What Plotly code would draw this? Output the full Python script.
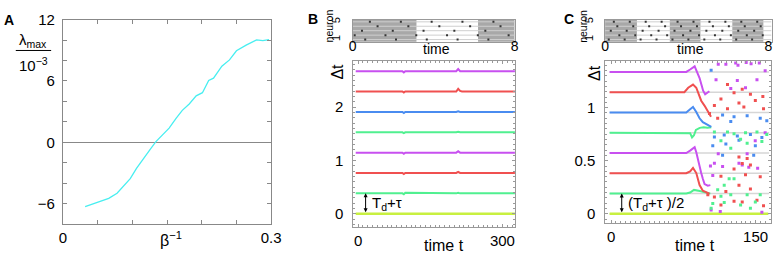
import plotly.graph_objects as go

W, H = 783, 253
FONT = "Liberation Sans, Arial, Helvetica, sans-serif"

# ---------------- Panel A data ----------------
A_beta_inv = [0.032, 0.052, 0.066, 0.078, 0.087, 0.097, 0.106, 0.117, 0.126, 0.134,
              0.144, 0.153, 0.163, 0.172, 0.182, 0.192, 0.201, 0.210, 0.217, 0.229,
              0.240, 0.250, 0.264, 0.279, 0.288, 0.297]
A_lambda = [-6.30, -5.86, -5.48, -4.98, -4.35, -3.56, -2.55, -1.45, -0.66, 0.06,
            0.76, 1.39, 2.33, 3.12, 3.75, 4.54, 4.85, 6.05, 6.27, 7.44,
            8.06, 8.95, 9.51, 10.02, 9.95, 10.04]
A_xticks = [0, 0.05, 0.1, 0.15, 0.2, 0.25, 0.3]
A_xlabels = ['0', '', '', '', '', '', '0.3']
A_yticks = [-8, -6, -4, -2, 0, 2, 4, 6, 8, 10, 12]
A_ylabels = ['', '\u22126', '', '', '0', '', '', '6', '', '', '12']

# ---------------- Colours of the 8 Δt traces ----------------
YEL, GRN, RED, MAG, BLU = '#c8f040', '#50f090', '#f05050', '#c850f0', '#4a8cf0'
line_colors = [YEL, GRN, RED, MAG, GRN, BLU, RED, MAG]

# ---------------- Panel B data ----------------
B_t = [-5, 92, 95, 98, 204, 208, 212, 216, 326]
B_levels = [0, 0.382, 0.764, 1.146, 1.528, 1.910, 2.292, 2.674]
B_dev = [
    [0, 0, 0, 0, 0, 0, 0, 0, 0],
    [0, 0, -0.015, 0.01, 0, 0.01, 0, 0, 0],
    [0, 0, -0.02, 0, 0, 0.02, 0, 0, 0],
    [0, 0, -0.02, 0, 0, 0.025, 0, 0, 0],
    [0, 0, -0.015, 0, 0, 0.01, 0, 0, 0],
    [0, 0, -0.02, 0, 0, 0.01, 0, 0, 0],
    [0, 0, -0.02, 0, 0, 0.05, 0.01, 0, 0],
    [0, 0, -0.025, 0, 0, 0.04, 0, 0, 0],
]
B_events = [95, 208]
B_blocks_gray = [[0, 3.15], [6.19, 8.0]]
B_spikes = {
    5: [0.85, 2.38, 3.90, 5.42, 6.95],
    4: [1.23, 2.75, 4.28, 5.80, 7.30],
    3: [0.46, 1.98, 3.50, 5.02, 6.55],
    2: [0.10, 1.62, 3.14, 4.66, 6.18, 7.70],
    1: [0.62, 2.14, 3.66, 5.18, 6.70],
}

# ---------------- Panel C data ----------------
C_levels = [0, 0.191, 0.382, 0.573, 0.764, 0.955, 1.146, 1.337]
C_line_t = [
    [-1.6, 163],
    [-1.6, 78, 82, 86, 92, 98, 103],
    [-1.6, 78, 82, 85, 88.4, 90.1, 91.8, 95.2, 98.6, 102],
    [-1.6, 78, 82, 86.7, 88.4, 90.1, 91.8, 93.5, 95.2, 97, 100.3, 103],
    [-1.6, 78, 82, 84, 86, 88, 92, 96, 100, 104],
    [-1.6, 78, 82, 85, 88.4, 91.8, 95.2, 100.3, 104],
    [-1.6, 76, 80, 85, 88.4, 91, 93.5, 96.9, 100.3, 103.7],
    [-1.6, 78, 82, 86.7, 89, 91.8, 94, 95.5, 97.6, 100, 102],
]
C_line_v = [
    [0, 0],
    [0.191, 0.191, 0.2, 0.225, 0.215, 0.2, 0.19],
    [0.382, 0.382, 0.4, 0.432, 0.384, 0.324, 0.27, 0.218, 0.2, 0.19],
    [0.573, 0.573, 0.595, 0.627, 0.58, 0.505, 0.445, 0.385, 0.33, 0.28, 0.265, 0.27],
    [0.764, 0.764, 0.76, 0.72, 0.74, 0.79, 0.81, 0.815, 0.81, 0.815],
    [0.955, 0.955, 0.985, 1.006, 0.96, 0.9, 0.863, 0.839, 0.82],
    [1.146, 1.146, 1.188, 1.218, 1.188, 1.127, 1.066, 1.02, 0.966, 0.915],
    [1.337, 1.337, 1.36, 1.39, 1.34, 1.28, 1.21, 1.16, 1.127, 1.14, 1.155],
]
C_mag_t = [111.2, 119.1, 129.3, 131.7, 140.2, 145.3, 153.8, 159.9, 108.9, 131.0, 151.4, 139.5,
           124.2, 111.2, 141.2, 107.2, 136.1, 132.7, 149.6, 159.9, 103.1, 115.7, 142.9, 152.1,
           105.5, 103.8, 113.3, 156.5]
C_mag_v = [1.409, 1.409, 1.421, 1.40, 1.427, 1.415, 1.421, 1.348, 1.264, 1.257, 1.264, 1.188,
           1.182, 0.566, 0.566, 0.476, 0.46, 0.476, 0.688, 0.763, 0.451, 0.445, 0.439, 0.43,
           0.36, 0.036, 0.021, 0.015]
C_red_t = [120.8, 127.6, 136.1, 144.6, 157.5, 114.0, 132.7, 149.7, 107.2, 137.8, 120.8, 158.2,
           102.1, 110.6, 132.7, 141.2, 114.0, 127.6, 136.1, 144.6, 154.8, 100.4, 107.2, 119.1,
           127.6, 136.1, 151.4, 158.2, 132.7, 144.6, 139.5, 114.0]
C_red_v = [1.218, 1.142, 1.173, 1.127, 1.106, 1.082, 1.045, 1.067, 1.021, 1.006, 0.991, 0.991,
           0.945, 0.90, 0.536, 0.521, 0.354, 0.421, 0.475, 0.46, 0.348, 0.179, 0.157, 0.209,
           0.118, 0.112, 0.127, 0.076, 0.269, 0.233, 0.369, 0.082]
C_blue_t = [103.8, 115.7, 127.6, 141.2, 154.8, 124.2, 161.6, 107.2, 117.4, 131.0, 144.6, 156.5,
            105.5, 119.1, 149.7, 132.7, 115.7, 148.0]
C_blue_v = [1.354, 0.93, 0.915, 0.924, 0.90, 0.87, 0.876, 0.724, 0.742, 0.733, 0.748, 0.718,
            0.642, 0.657, 0.642, 0.694, 0.551, 0.551]
C_green_t = [107.2, 120.8, 127.6, 139.5, 151.4, 161.6, 114.0, 134.4, 156.5, 124.2, 141.2, 122.5,
             127.6, 117.4, 110.6, 124.2, 114.0, 141.2, 154.8, 105.5, 117.4, 134.4, 144.6, 103.8,
             149.7]
C_green_v = [0.772, 0.772, 0.754, 0.763, 0.772, 0.748, 0.688, 0.703, 0.682, 0.618, 0.664, 0.33,
             0.33, 0.269, 0.227, 0.179, 0.166, 0.179, 0.179, 0.097, 0.106, 0.082, 0.051, 0.051,
             0.112]
C_events = [50]
C_blocks_gray = [[0, 1.56], [3.17, 4.67], [6.23, 7.75]]
C_spikes = {
    5: [0.43, 1.21, 1.99, 2.77, 3.55, 4.33, 5.11, 5.89, 6.67, 7.45],
    4: [0.60, 1.38, 2.16, 2.94, 3.72, 4.50, 5.28, 6.06, 6.84, 7.62],
    3: [0.28, 1.06, 1.84, 2.62, 3.40, 4.18, 4.96, 5.74, 6.52, 7.30],
    2: [0.70, 1.48, 2.26, 3.04, 3.82, 4.60, 5.38, 6.16, 6.94, 7.72],
    1: [0.18, 0.96, 1.74, 2.52, 3.30, 4.08, 4.86, 5.64, 6.42, 7.20],
}
neurons = [1, 2, 3, 4, 5]

fig = go.Figure()

# ---- Panel A ----
fig.add_trace(go.Scatter(x=A_beta_inv, y=A_lambda, mode='lines',
                         line=dict(color='#48eef0', width=1.3), xaxis='x', yaxis='y'))

# ---- raster helper ----
def add_raster(xa, ya, spikes, xmax):
    for n in neurons:
        fig.add_trace(go.Scatter(x=[0, xmax], y=[n, n], mode='lines',
                                 line=dict(color='#cfcfcf', width=1), xaxis=xa, yaxis=ya))
    for n in neurons:
        fig.add_trace(go.Scatter(x=spikes[n], y=[n] * len(spikes[n]), mode='markers',
                                 marker=dict(symbol='square', size=2, color='#333333'),
                                 xaxis=xa, yaxis=ya))

add_raster('x2', 'y2', B_spikes, 8.0)
add_raster('x4', 'y4', C_spikes, 8.15)

# ---- Panel B main ----
for k, lev in enumerate(B_levels):
    fig.add_trace(go.Scatter(x=B_t, y=[lev + d for d in B_dev[k]], mode='lines',
                             line=dict(color=line_colors[k], width=2.6 if k == 0 else 2),
                             xaxis='x3', yaxis='y3'))
fig.add_trace(go.Scatter(x=B_events, y=[2.955] * len(B_events), mode='markers',
                         marker=dict(symbol='triangle-down', size=9, color='#1010f0'),
                         cliponaxis=False, xaxis='x3', yaxis='y3'))

# ---- Panel C main ----
for lev in C_levels:
    fig.add_trace(go.Scatter(x=[-1.6, 164], y=[lev, lev], mode='lines',
                             line=dict(color='#d6d6d6', width=1.5), xaxis='x5', yaxis='y5'))
for k in range(8):
    fig.add_trace(go.Scatter(x=C_line_t[k], y=C_line_v[k], mode='lines',
                             line=dict(color=line_colors[k], width=2.6 if k == 0 else 2),
                             xaxis='x5', yaxis='y5'))
for tt, vv, col in [(C_mag_t, C_mag_v, MAG), (C_red_t, C_red_v, RED),
                    (C_blue_t, C_blue_v, BLU), (C_green_t, C_green_v, GRN)]:
    fig.add_trace(go.Scatter(x=tt, y=vv, mode='markers',
                             marker=dict(symbol='square', size=3, color=col),
                             xaxis='x5', yaxis='y5'))
fig.add_trace(go.Scatter(x=C_events, y=[1.485] * len(C_events), mode='markers',
                         marker=dict(symbol='triangle-down', size=9, color='#1010f0'),
                         cliponaxis=False, xaxis='x5', yaxis='y5'))

# ---- shapes: raster shading ----
shapes = []
for x0, x1 in B_blocks_gray:
    shapes.append(dict(type='rect', xref='x2', yref='y2 domain', x0=x0, x1=x1, y0=0, y1=1,
                       fillcolor='#a8a8a8', line=dict(width=0), layer='below'))
for x0, x1 in C_blocks_gray:
    shapes.append(dict(type='rect', xref='x4', yref='y4 domain', x0=x0, x1=x1, y0=0, y1=1,
                       fillcolor='#a8a8a8', line=dict(width=0), layer='below'))
# fraction bar of the λmax label
shapes.append(dict(type='line', xref='paper', yref='paper', x0=12 / W, x1=48 / W,
                   y0=1 - 43 / H, y1=1 - 43 / H, line=dict(color='black', width=1)))

def txt(text, x, y, size=14, angle=0, xanchor='center', xref='paper', yref='paper'):
    return dict(text=text, x=x, y=y, xref=xref, yref=yref, showarrow=False,
                font=dict(family=FONT, size=size, color='black'), textangle=angle,
                xanchor=xanchor, yanchor='middle')

annotations = [
    txt('<b>A</b>', 5 / W, 1 - 11 / H, 14),
    txt('<b>B</b>', 315 / W, 1 - 10 / H, 14),
    txt('<b>C</b>', 575 / W, 1 - 10 / H, 14),
    txt('λ<sub>max</sub>', 30 / W, 1 - 33 / H, 15),
    txt('10<sup>\u22123</sup>', 30 / W, 1 - 58 / H, 15),
    txt('β<sup>\u22121</sup>', 170 / W, 1 - 238 / H, 16),
    txt('Δt', 340 / W, 1 - 65 / H, 16, angle=-90),
    txt('Δt', 601 / W, 1 - 66 / H, 16, angle=-90),
    txt('time t', 448 / W, 1 - 245 / H, 16),
    txt('time t', 704 / W, 1 - 245 / H, 16),
    txt('time', 440 / W, 1 - 41 / H, 14),
    txt('time', 699 / W, 1 - 41 / H, 14),
    txt('neuron', 331 / W, 1 - 18 / H, 10.5, angle=-90),
    txt('neuron', 590 / W, 1 - 18 / H, 10.5, angle=-90),
    txt('T<sub>d</sub>+τ', 25, 0.19, 15, xanchor='left', xref='x3', yref='y3'),
    txt('(T<sub>d</sub>+τ )/2', 15, 0.095, 15, xanchor='left', xref='x5', yref='y5'),
    dict(text='', x=15.5, y=B_levels[1], ax=15.5, ay=B_levels[0], xref='x3', yref='y3',
         axref='x3', ayref='y3', showarrow=True, arrowhead=2, arrowside='end+start',
         arrowsize=0.8, arrowwidth=1, arrowcolor='black', standoff=0, startstandoff=0),
    dict(text='', x=11, y=C_levels[1], ax=11, ay=C_levels[0], xref='x5', yref='y5',
         axref='x5', ayref='y5', showarrow=True, arrowhead=2, arrowside='end+start',
         arrowsize=0.8, arrowwidth=1, arrowcolor='black', standoff=0, startstandoff=0),
]

tickfont = dict(family=FONT, size=15, color='black')
rfont = dict(family=FONT, size=14, color='black')
nfont = dict(family=FONT, size=11, color='black')
frame = dict(showline=True, linecolor='#999999', mirror='allticks', showgrid=False, zeroline=False)

def dom_x(a, b):
    return [a / W, b / W]

def dom_y(top, bottom):
    return [1 - bottom / H, 1 - top / H]

fig.update_layout(
    width=W, height=H, margin=dict(l=0, r=0, t=0, b=0),
    paper_bgcolor='white', plot_bgcolor='white', showlegend=False,
    font=dict(family=FONT, color='black'),
    shapes=shapes, annotations=annotations,
    xaxis=dict(domain=dom_x(60, 272), range=[0, 0.3], tickvals=A_xticks, ticktext=A_xlabels,
               ticks='inside', ticklen=4, tickcolor='#888888', tickfont=tickfont, anchor='y',
               showline=True, linecolor='#888888', mirror='allticks', showgrid=False, zeroline=False),
    yaxis=dict(domain=dom_y(11, 223), range=[-8, 12], tickvals=A_yticks, ticktext=A_ylabels,
               ticks='inside', ticklen=4, tickcolor='#888888', tickfont=tickfont, anchor='x',
               showline=True, linecolor='#888888', mirror='allticks', showgrid=False,
               zeroline=True, zerolinecolor='#888888', zerolinewidth=1, ticklabelstandoff=4),
    xaxis2=dict(domain=dom_x(355, 520), range=[0, 8.0], tickvals=[0, 8], ticks='',
                tickfont=rfont, anchor='y2', ticklabelstandoff=-9, **frame),
    yaxis2=dict(domain=dom_y(11, 34), range=[0.5, 5.5], tickvals=[1, 5], ticks='', tickangle=-90,
                tickfont=nfont, anchor='x2', ticklabelstandoff=7, **frame),
    xaxis3=dict(domain=dom_x(355.7, 520.7), range=[-10, 327], tickvals=[0, 300],
                ticks='inside', ticklen=3, tickcolor='#999999', tickfont=tickfont, anchor='y3',
                minor=dict(ticks='inside', ticklen=2, tickcolor='#999999', dtick=10, tick0=0),
                **frame),
    yaxis3=dict(domain=dom_y(53.5, 226), range=[-0.248, 2.872], tickvals=[0, 1, 2],
                ticks='inside', ticklen=3, tickcolor='#999999', tickfont=tickfont, anchor='x3',
                minor=dict(ticks='inside', ticklen=2, tickcolor='#999999', dtick=0.1, tick0=0),
                ticklabelstandoff=6, **frame),
    xaxis4=dict(domain=dom_x(612, 781.5), range=[0, 8.15], tickvals=[0, 8], ticks='',
                tickfont=rfont, anchor='y4', ticklabelstandoff=-9, **frame),
    yaxis4=dict(domain=dom_y(11, 34), range=[0.5, 5.5], tickvals=[1, 5], ticks='', tickangle=-90,
                tickfont=nfont, anchor='x4', ticklabelstandoff=7, **frame),
    xaxis5=dict(domain=dom_x(612.3, 781), range=[-6, 166], tickvals=[0, 150],
                ticks='inside', ticklen=3, tickcolor='#999999', tickfont=tickfont, anchor='y5',
                minor=dict(ticks='inside', ticklen=2, tickcolor='#999999', dtick=5, tick0=0),
                **frame),
    yaxis5=dict(domain=dom_y(53.5, 222), range=[-0.088, 1.444], tickvals=[0, 0.5, 1],
                ticktext=['0', '0.5', '1'],
                ticks='inside', ticklen=3, tickcolor='#999999', tickfont=tickfont, anchor='x5',
                minor=dict(ticks='inside', ticklen=2, tickcolor='#999999', dtick=0.05, tick0=0),
                ticklabelstandoff=6, **frame),
)

fig.write_html("out.html", config={'displayModeBar': False},
               post_script="document.body.style.margin='0';document.body.style.overflow='hidden';")
